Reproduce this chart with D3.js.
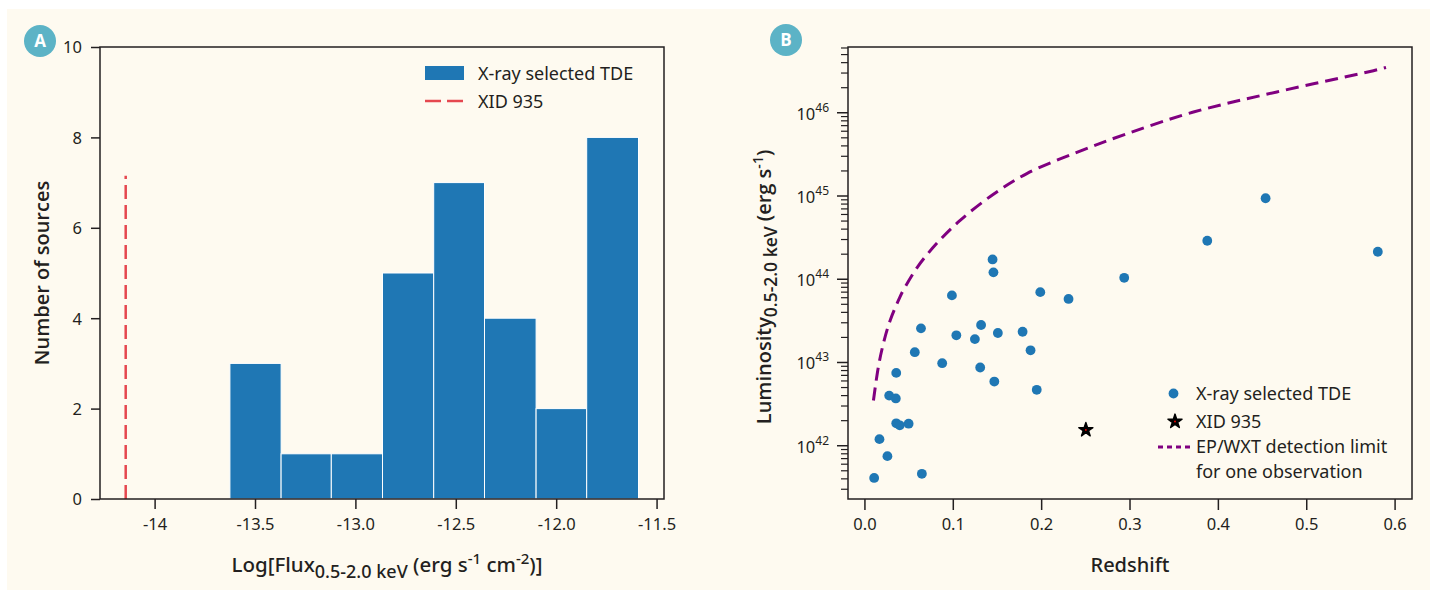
<!DOCTYPE html>
<html>
<head>
<meta charset="utf-8">
<script src="https://cdn.jsdelivr.net/npm/d3@7"></script>
<style>
  html, body { margin: 0; padding: 0; background: #ffffff; }
  svg { display: block; }
  text { font-family: "Noto Sans", Roboto, sans-serif; fill: #231f20; }
  .axislabel { font-family: "Open Sans", "Noto Sans", sans-serif; font-weight: 600; }
</style>
</head>
<body>
<svg id="fig" width="1436" height="593"></svg>
<script>
// ---- Panel A: flux histogram ----
const binEdges = [-13.625, -13.37, -13.12, -12.865, -12.61, -12.357, -12.10, -11.848, -11.59];
const binCounts = [3, 1, 1, 5, 7, 4, 2, 8];
const xidFlux = -14.144;
const xidLineTop = 7.15;
const histXTicks = [-14, -13.5, -13.0, -12.5, -12.0, -11.5];
const histXTickLabels = ["-14", "-13.5", "-13.0", "-12.5", "-12.0", "-11.5"];
const histYTicks = [0, 2, 4, 6, 8, 10];

// ---- Panel B: luminosity vs redshift ----
const tdeRedshift = [0.145, 0.146, 0.294, 0.199, 0.099, 0.231, 0.064, 0.132, 0.104, 0.151,
                     0.125, 0.179, 0.057, 0.188, 0.088, 0.131, 0.036, 0.147, 0.195, 0.028,
                     0.0355, 0.036, 0.040, 0.050, 0.017, 0.026, 0.011, 0.065, 0.454, 0.388, 0.581];
const tdeLum = [1.73e44, 1.21e44, 1.04e44, 7.0e43, 6.4e43, 5.8e43, 2.57e43, 2.82e43, 2.12e43, 2.26e43,
                1.91e43, 2.34e43, 1.33e43, 1.40e43, 9.8e42, 8.7e42, 7.5e42, 5.9e42, 4.7e42, 4.0e42,
                3.7e42, 1.86e42, 1.76e42, 1.84e42, 1.20e42, 7.5e41, 4.1e41, 4.6e41, 9.4e44, 2.9e44, 2.14e44];
const xidRedshift = 0.2506;
const xidLum = 1.55e42;
const limitRedshift = [0.0102, 0.0158, 0.0215, 0.0291, 0.0404, 0.0441, 0.060, 0.0819, 0.1083, 0.146,
                       0.1838, 0.2404, 0.297, 0.3724, 0.4668, 0.5761, 0.5903];
const limitLum = [3.5e42, 8.9e42, 1.7e43, 3.2e43, 6.2e43, 7.4e43, 1.4e44, 2.7e44, 5.1e44, 1.05e45,
                  1.86e45, 3.35e45, 5.6e45, 1.02e46, 1.78e46, 3.2e46, 3.5e46];
const zTicks = [0.0, 0.1, 0.2, 0.3, 0.4, 0.5, 0.6];
const zTickLabels = ["0.0", "0.1", "0.2", "0.3", "0.4", "0.5", "0.6"];
const lumTickExps = [42, 43, 44, 45, 46];

const ink = "#231f20";
const blue = "#1f77b4";
const tickFont = "16.5px";
const legendFont = "18px";
const svg = d3.select("#fig");

// card background
svg.append("rect").attr("x", 7).attr("y", 9).attr("width", 1423).attr("height", 581)
  .attr("fill", "#fefaf0");

function badge(cx, cy, letter) {
  svg.append("circle").attr("cx", cx).attr("cy", cy).attr("r", 16).attr("fill", "#5cb3c6");
  svg.append("text").attr("x", cx).attr("y", cy + 6).attr("text-anchor", "middle")
    .style("font-family", "'Open Sans', sans-serif").style("font-weight", 700)
    .style("font-size", "17px").style("fill", "#ffffff").text(letter);
}

function frame(g, w, h) {
  g.append("rect").attr("x", 0).attr("y", 0).attr("width", w).attr("height", h)
    .attr("fill", "none").attr("stroke", ink).attr("stroke-width", 1.5);
}

// ================= Panel A =================
const A = { left: 100, right: 664, top: 47, bottom: 499 };
const gA = svg.append("g").attr("transform", `translate(${A.left},${A.top})`);
const wA = A.right - A.left, hA = A.bottom - A.top;
const xA = d3.scaleLinear().domain([-14.272, -11.463]).range([0, wA]);
const yA = d3.scaleLinear().domain([0, 10]).range([hA, 0]);

const bins = binCounts.map((c, i) => ({ x0: binEdges[i], x1: binEdges[i + 1], n: c }));
gA.selectAll("rect.bar").data(bins).join("rect").attr("class", "bar")
  .attr("x", d => xA(d.x0)).attr("width", d => xA(d.x1) - xA(d.x0))
  .attr("y", d => yA(d.n)).attr("height", d => yA(0) - yA(d.n))
  .attr("fill", blue).attr("stroke", "#ffffff").attr("stroke-width", 1);

gA.append("line")
  .attr("x1", xA(xidFlux)).attr("x2", xA(xidFlux))
  .attr("y1", yA(0)).attr("y2", yA(xidLineTop))
  .attr("stroke", "#e5474f").attr("stroke-width", 2.5).attr("stroke-dasharray", "14,6");

frame(gA, wA, hA);

const axA_x = gA.append("g").attr("transform", `translate(0,${hA})`)
  .call(d3.axisBottom(xA).tickValues(histXTicks).tickFormat((d, i) => histXTickLabels[i])
    .tickSize(10).tickPadding(9));
const axA_y = gA.append("g")
  .call(d3.axisLeft(yA).tickValues(histYTicks).tickFormat(d3.format("d")).tickSize(9).tickPadding(9));
[axA_x, axA_y].forEach(ax => {
  ax.select(".domain").remove();
  ax.selectAll("line").attr("stroke", ink).attr("stroke-width", 1.5);
  ax.selectAll("text").style("font-size", tickFont).style("fill", ink).style("font-family", "'Noto Sans', sans-serif");
});
axA_y.selectAll("text").attr("dy", "0.36em");

// legend A
gA.append("rect").attr("x", 425 - A.left).attr("y", 66 - A.top).attr("width", 39).attr("height", 14).attr("fill", blue);
gA.append("text").attr("x", 478 - A.left).attr("y", 79.5 - A.top).style("font-size", legendFont).text("X-ray selected TDE");
gA.append("line").attr("x1", 425 - A.left).attr("x2", 464 - A.left).attr("y1", 101 - A.top).attr("y2", 101 - A.top)
  .attr("stroke", "#e5474f").attr("stroke-width", 2.5).attr("stroke-dasharray", "16,6");
gA.append("text").attr("x", 478 - A.left).attr("y", 107.5 - A.top).style("font-size", legendFont).text("XID 935");

// axis titles A
svg.append("text").attr("class", "axislabel")
  .attr("transform", "translate(49,273) rotate(-90)").attr("text-anchor", "middle")
  .style("font-size", "20px").text("Number of sources");
const xlabA = svg.append("text").attr("x", 387).attr("y", 572)
  .attr("text-anchor", "middle").style("font-size", "20.5px").style("font-weight", 500);
xlabA.append("tspan").text("Log[Flux");
xlabA.append("tspan").attr("dy", 6).style("font-size", "18px").text("0.5-2.0 keV");
xlabA.append("tspan").attr("dy", -6).text(" (erg s");
xlabA.append("tspan").attr("dy", -8).style("font-size", "15px").text("-1");
xlabA.append("tspan").attr("dy", 8).text(" cm");
xlabA.append("tspan").attr("dy", -8).style("font-size", "15px").text("-2");
xlabA.append("tspan").attr("dy", 8).text(")]");

badge(40, 41, "A");

// ================= Panel B =================
const B = { left: 848, right: 1412, top: 47, bottom: 499 };
const gB = svg.append("g").attr("transform", `translate(${B.left},${B.top})`);
const wB = B.right - B.left, hB = B.bottom - B.top;
const xB = d3.scaleLinear().domain([-0.0186, 0.6197]).range([0, wB]);
const yB = d3.scaleLog().domain([Math.pow(10, 41.36), Math.pow(10, 46.79)]).range([hB, 0]);

// detection limit curve
const limitPts = limitRedshift.map((z, i) => [z, limitLum[i]]);
gB.append("path").datum(limitPts)
  .attr("d", d3.line().x(d => xB(d[0])).y(d => yB(d[1])).curve(d3.curveCatmullRom.alpha(0.5)))
  .attr("fill", "none").attr("stroke", "#800080").attr("stroke-width", 3).attr("stroke-dasharray", "13,7");

// TDE points
const tdePts = tdeRedshift.map((z, i) => [z, tdeLum[i]]);
gB.selectAll("circle.tde").data(tdePts).join("circle").attr("class", "tde")
  .attr("cx", d => xB(d[0])).attr("cy", d => yB(d[1])).attr("r", 4.9).attr("fill", blue);

// XID 935
const star = d3.symbol().type(d3.symbolStar).size(62);
gB.append("path").attr("d", star())
  .attr("transform", `translate(${xB(xidRedshift)},${yB(xidLum)})`)
  .attr("fill", "#000").attr("stroke", "#000").attr("stroke-width", 1.4).attr("stroke-linejoin", "round");
gB.append("circle").attr("cx", xB(xidRedshift)).attr("cy", yB(xidLum)).attr("r", 0.9).attr("fill", "#ff0000");

frame(gB, wB, hB);

// axes B
const axB_x = gB.append("g").attr("transform", `translate(0,${hB})`)
  .call(d3.axisBottom(xB).tickValues(zTicks).tickFormat((d, i) => zTickLabels[i]).tickSize(11).tickPadding(8));
axB_x.select(".domain").remove();
axB_x.selectAll("line").attr("stroke", ink).attr("stroke-width", 1.5);
axB_x.selectAll("text").style("font-size", tickFont).style("fill", ink).style("font-family", "'Noto Sans', sans-serif");

// minor log ticks
const [lo, hi] = yB.domain();
const minor = [];
for (let e = 41; e <= 46; e++) {
  for (let m = 2; m <= 9; m++) {
    const v = m * Math.pow(10, e);
    if (v >= lo && v <= hi) minor.push(v);
  }
}
gB.selectAll("line.minor").data(minor).join("line").attr("class", "minor")
  .attr("x1", -7).attr("x2", 0).attr("y1", d => yB(d)).attr("y2", d => yB(d))
  .attr("stroke", ink).attr("stroke-width", 1.2);
gB.selectAll("line.major").data(lumTickExps).join("line").attr("class", "major")
  .attr("x1", -11).attr("x2", 0).attr("y1", d => yB(Math.pow(10, d))).attr("y2", d => yB(Math.pow(10, d)))
  .attr("stroke", ink).attr("stroke-width", 1.5);
const ylabels = gB.selectAll("text.ylab").data(lumTickExps).join("text").attr("class", "ylab")
  .attr("x", -19).attr("y", d => yB(Math.pow(10, d)) + 7).attr("text-anchor", "end")
  .style("font-size", tickFont);
ylabels.append("tspan").text("10");
ylabels.append("tspan").attr("dy", -8).style("font-size", "12px").text(d => d);

// legend B
const lg = svg.append("g");
lg.append("circle").attr("cx", 1173.5).attr("cy", 393.5).attr("r", 4.9).attr("fill", blue);
lg.append("text").attr("x", 1196).attr("y", 400).style("font-size", legendFont).text("X-ray selected TDE");
lg.append("path").attr("d", star()).attr("transform", "translate(1175,421.5)")
  .attr("fill", "#000").attr("stroke", "#000").attr("stroke-width", 1.4).attr("stroke-linejoin", "round");
lg.append("circle").attr("cx", 1175).attr("cy", 421.5).attr("r", 0.9).attr("fill", "#ff0000");
lg.append("text").attr("x", 1196).attr("y", 428).style("font-size", legendFont).text("XID 935");
lg.append("line").attr("x1", 1158).attr("x2", 1190).attr("y1", 447).attr("y2", 447)
  .attr("stroke", "#800080").attr("stroke-width", 3).attr("stroke-dasharray", "5,4");
const limitText = lg.append("text").attr("x", 1196).attr("y", 453).style("font-size", legendFont);
limitText.append("tspan").attr("x", 1196).text("EP/WXT detection limit");
limitText.append("tspan").attr("x", 1196).attr("dy", 24.6).text("for one observation");

// axis titles B
const ylabB = svg.append("text").attr("class", "axislabel")
  .attr("transform", "translate(771,287) rotate(-90)").attr("text-anchor", "middle")
  .style("font-size", "20px");
ylabB.append("tspan").text("Luminosity");
ylabB.append("tspan").attr("dy", 6).style("font-size", "17.5px").text("0.5-2.0 keV");
ylabB.append("tspan").attr("dy", -6).text(" (erg s");
ylabB.append("tspan").attr("dy", -8).style("font-size", "14px").text("-1");
ylabB.append("tspan").attr("dy", 8).text(")");

svg.append("text").attr("x", 1130).attr("y", 572).attr("text-anchor", "middle")
  .style("font-size", "20px").style("font-weight", 500).text("Redshift");

badge(786, 40, "B");
</script>
</body>
</html>
